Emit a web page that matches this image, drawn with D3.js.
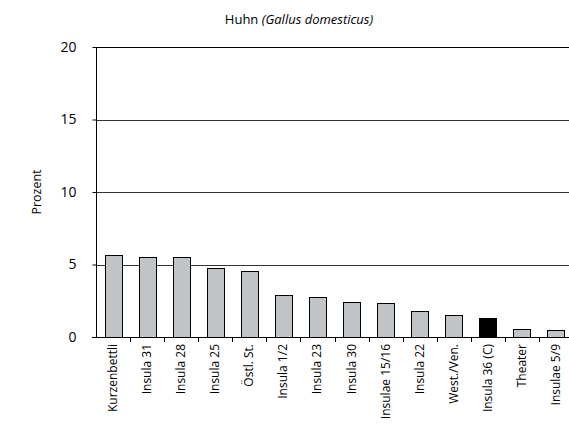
<!DOCTYPE html>
<html><head><meta charset="utf-8">
<script src="https://cdn.jsdelivr.net/npm/d3@7"></script>
<style>body{margin:0;background:#fff;} svg{display:block;} text{font-family:"Open Sans",sans-serif;fill:#000;}</style>
</head><body>
<svg id="c" width="569" height="428"></svg>
<script>
const categories = ["Kurzenbettli","Insula 31","Insula 28","Insula 25","Östl. St.","Insula 1/2","Insula 23","Insula 30","Insulae 15/16","Insula 22","West./Ven.","Insula 36 (C)","Theater","Insulae 5/9"];
const values = [5.68,5.5,5.5,4.74,4.53,2.9,2.78,2.41,2.32,1.77,1.52,1.31,0.55,0.46];
const highlight = ["Insula 36 (C)"];
const yTicks = [0,5,10,15,20];

const svg = d3.select("#c");
const x = d3.scaleBand().domain(categories).range([96,573]).paddingInner(0.5).paddingOuter(0.25);
const y = d3.scaleLinear().domain([0,20]).range([337,47]);

// gridlines
svg.append("g").selectAll("line").data(yTicks.filter(d=>d>0)).join("line")
  .attr("x1",96).attr("x2",573).attr("y1",d=>Math.round(y(d))+0.5).attr("y2",d=>Math.round(y(d))+0.5)
  .attr("stroke",d=>d===20?"#000":"#333").attr("stroke-width",1);

// bars
svg.append("g").selectAll("rect").data(categories).join("rect")
  .attr("x",d=>Math.round(x(d))+0.5).attr("width",Math.round(x.bandwidth()))
  .attr("y",(d,i)=>Math.round(y(values[i]))+0.5).attr("height",(d,i)=>Math.round(y(0))-Math.round(y(values[i])))
  .attr("fill",d=>highlight.includes(d)?"#000":"#c1c4c7").attr("stroke","#000").attr("stroke-width",1);

// y axis
const ya = svg.append("g").attr("transform","translate(96.5,0)")
  .call(d3.axisLeft(y).tickValues(yTicks).tickSize(4).tickPadding(16));
ya.select(".domain").attr("d","M0,"+y(20)+"V"+(y(0)+0.5)).attr("stroke","#000");
ya.selectAll("text").style("font-size","14px").attr("font-family","'Open Sans',sans-serif");

// x axis
const xa = svg.append("g").attr("transform","translate(0,337.5)")
  .call(d3.axisBottom(x).tickSize(0).tickFormat(""));
xa.select(".domain").attr("d","M92,0H573").attr("stroke","#000");
const sep = d3.range(1,categories.length).map(i=>x.step()*i+96);
svg.append("g").selectAll("line").data(sep).join("line")
  .attr("x1",d=>Math.round(d)+0.5).attr("x2",d=>Math.round(d)+0.5).attr("y1",337).attr("y2",342)
  .attr("stroke","#000");

svg.append("g").selectAll("text").data(categories).join("text")
  .attr("transform",d=>`translate(${x(d)+x.bandwidth()/2+4},344) rotate(-90)`)
  .attr("text-anchor","end").style("font-size","12px").text(d=>d);

// y label
svg.append("text").attr("transform","translate(41,192) rotate(-90)").attr("text-anchor","middle")
  .style("font-size","12.5px").text("Prozent");

// title
const t = svg.append("text").attr("x",299).attr("y",24).attr("text-anchor","middle").style("font-size","13px");
t.append("tspan").text("Huhn ");
t.append("tspan").style("font-style","italic").text("(Gallus domesticus)");
</script>
</body></html>
